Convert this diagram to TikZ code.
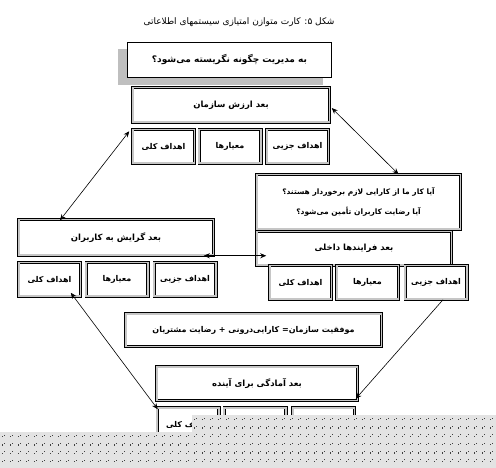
\documentclass[tikz,border=0pt]{standalone}
\usepackage{fontspec}
\usepackage{tikz}
\usetikzlibrary{arrows.meta,positioning,calc,shadows}
\TeXXeTstate=1
\newfontfamily\fafont[Script=Arabic]{DejaVu Sans}
\newcommand{\rl}[1]{\beginR#1\endR}

\tikzset{
  dimbox/.style={draw,line width=0.7pt,double=gray!45,double distance=1.8pt,fill=white,
    inner sep=1pt,align=center,font=\fafont\bfseries\fontsize{8.5}{10}\selectfont},
  goal/.style={dimbox,minimum width=61.8pt,minimum height=33.8pt,
    font=\fafont\bfseries\fontsize{8}{10}\selectfont},
  headbox/.style={draw,line width=0.7pt,fill=white,minimum width=204.3pt,minimum height=35.3pt,
    font=\fafont\bfseries\fontsize{9}{11}\selectfont,
    drop shadow={shadow xshift=-9pt,shadow yshift=-7pt,fill=gray!50,opacity=1}},
  link/.style={line width=0.6pt,{Stealth[length=6pt,width=5pt]}-{Stealth[length=6pt,width=5pt]}},
}

\begin{document}
\begin{tikzpicture}[x=1pt,y=-1pt]
  \useasboundingbox (0,0) rectangle (496,468);

  % --- title ---
  \node[font=\fafont\fontsize{9}{11}\selectfont] (title) at (239,22)
    {\rl{شکل ۵: کارت متوازن امتیازی سیستمهای اطلاعاتی}};

  % --- top: value ---
  \node[headbox] (head) at (229.5,60) {\rl{به مدیریت چگونه نگریسته می‌شود؟}};
  \node[dimbox,minimum width=196.8pt,minimum height=34.8pt] (value) at (231,105) {\rl{بعد ارزش سازمان}};
  \node[goal] (vg1) at (163.5,146.5) {\rl{اهداف کلی}};
  \node[goal] (vg2) at (230,146.5) {\rl{معیارها}};
  \node[goal] (vg3) at (297.5,146.5) {\rl{اهداف جزیی}};

  % --- right: processes ---
  \node[dimbox,minimum width=203.8pt,minimum height=54.8pt,font=\fafont\bfseries\fontsize{7.5}{9}\selectfont] (question) at (358.5,202)
    {\rl{آیا کار ما از کارایی لازم برخوردار هستند؟}\\[10pt]\rl{آیا رضایت کاربران تأمین می‌شود؟}};
  \node[dimbox,minimum width=194.8pt,minimum height=33.8pt] (process) at (354,248.5) {\rl{بعد فرایندها داخلی}};
  \node[goal] (pg1) at (300.5,282.5) {\rl{اهداف کلی}};
  \node[goal] (pg2) at (367.5,282.5) {\rl{معیارها}};
  \node[goal] (pg3) at (436,282.5) {\rl{اهداف جزیی}};

  % --- left: customers ---
  \node[dimbox,minimum width=194.8pt,minimum height=35.8pt] (customer) at (116,237.5) {\rl{بعد گرایش به کاربران}};
  \node[goal] (cg1) at (49.5,279.5) {\rl{اهداف کلی}};
  \node[goal] (cg2) at (117,279.5) {\rl{معیارها}};
  \node[goal] (cg3) at (185,279.5) {\rl{اهداف جزیی}};

  % --- bottom: growth ---
  \node[dimbox,minimum width=255.8pt,minimum height=32.8pt,font=\fafont\bfseries\fontsize{8}{10}\selectfont] (success) at (253.5,330)
    {\rl{موفقیت سازمان= کارایی‌درونی + رضایت مشتریان}};
  \node[dimbox,minimum width=200.8pt,minimum height=33.8pt] (growth) at (257,383.5) {\rl{بعد آمادگی برای آینده}};
  \node[goal] (gg1) at (188,424.5) {\rl{اهداف کلی}};
  \node[goal] (gg2) at (255,424.5) {};
  \node[goal] (gg3) at (323.5,424.5) {};

  % --- links ---
  \draw[link] ([xshift=2pt,yshift=-3pt]value.east) -- ([xshift=40pt]question.north);
  \draw[link] ([xshift=-56pt,yshift=-1pt]customer.north) -- ([xshift=-3pt,yshift=-2pt]vg1.north west);
  \draw[link] ([xshift=-10pt,yshift=4pt]cg1.south east) -- ([xshift=1pt,yshift=-2pt]gg1.north west);
  \draw[link] ([xshift=-10pt]customer.south east) -- ([xshift=10pt,yshift=10pt]process.south west);
  \draw[line width=0.6pt,-{Stealth[length=6pt,width=5pt]}] ([xshift=7pt]pg3.south) -- ([xshift=-2pt,yshift=2pt]growth.south east);

  % --- scanned dot screen over the bottom ---
  \fill[gray!22] (0,432) -- (192,432) -- (192,415) -- (496,415) -- (496,468) -- (0,468) -- cycle;
  \foreach \x in {2,10,...,186}{
    \foreach \y in {436,444.3,...,466}{
      \fill[black!75] (\x,\y) rectangle ++(1.4,1.4);
      \fill[black!75] (\x+1.6,\y-1.4) rectangle ++(1.2,1.2);
    }
  }
  \foreach \x in {194,202,...,494}{
    \foreach \y in {419,427.3,...,466}{
      \fill[black!75] (\x,\y) rectangle ++(1.4,1.4);
      \fill[black!75] (\x+1.6,\y-1.4) rectangle ++(1.2,1.2);
    }
  }
\end{tikzpicture}
\end{document}
